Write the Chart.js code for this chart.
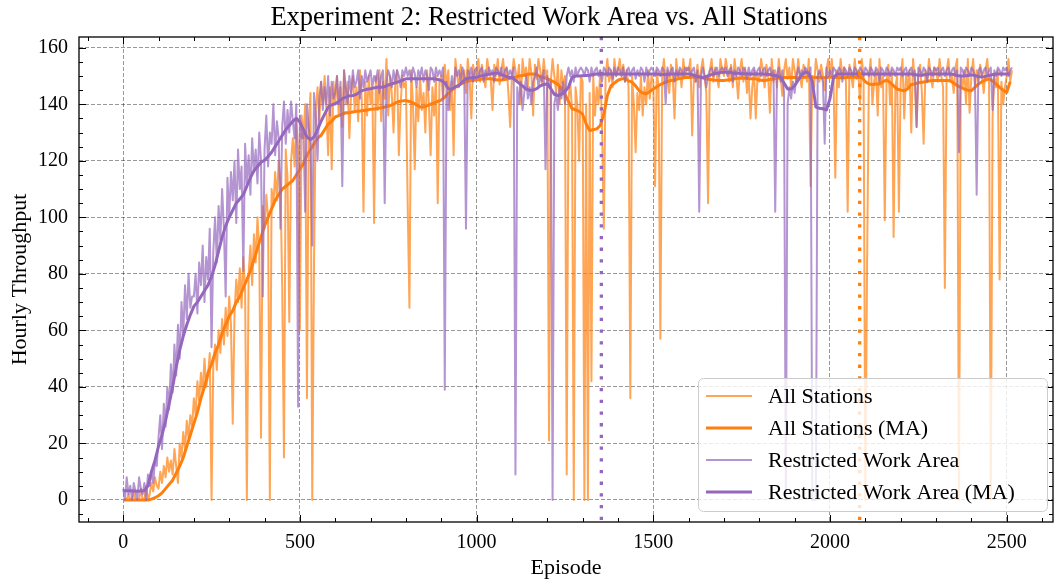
<!DOCTYPE html>
<html>
<head>
<meta charset="utf-8">
<script src="https://cdn.jsdelivr.net/npm/chart.js@4.4.1/dist/chart.umd.min.js"></script>
<style>
  html, body { margin: 0; padding: 0; background: #fff; }
</style>
</head>
<body>
<canvas id="chart" width="1054" height="584"></canvas>
<script>
// raw episodes are sampled every 5 episodes, moving averages every 10
const RAW_STEP = 5;
const MA_STEP = 10;

// All Stations, raw hourly throughput (one row = 100 episodes)
const allStationsRaw = [
  0,0,0,2,0,0,3,0,0,0,4,0,0,5,0,2,6,3,8,5,
  4,10,6,12,8,15,10,14,9,18,12,6,20,15,24,18,28,22,30,26,
  36,30,42,35,45,38,50,40,44,52,0,48,55,46,60,52,64,55,68,58,
  72,62,27,66,78,70,82,68,86,74,0,80,90,76,94,84,100,88,22,104,
  96,108,100,0,110,104,116,106,120,112,75,15,124,114,63,120,128,118,134,124,
  60,136,128,140,36,132,144,0,84,138,146,134,148,140,150,138,122,146,117,148,
  140,150,136,146,132,152,140,148,128,144,150,138,146,134,152,142,102,148,136,150,
  140,146,98,150,138,152,134,148,142,156,136,150,144,130,148,152,122,140,150,146,
  148,105,68,152,140,117,146,134,150,138,144,130,152,140,122,146,136,150,105,148,
  150,142,154,146,152,138,148,122,156,150,146,154,148,152,144,156,150,135,154,150,
  152,156,148,154,150,146,156,152,149,138,154,150,156,147,152,156,149,153,144,132,
  150,156,152,148,154,140,156,150,153,146,156,151,136,154,149,156,152,147,156,150,
  152,21,148,156,150,144,154,140,152,146,150,9,142,148,138,0,146,140,120,150,
  148,0,140,0,144,42,150,136,146,140,152,132,96,150,156,148,152,146,156,150,
  152,156,150,154,148,152,146,36,150,140,123,144,138,150,136,146,140,152,142,150,
  148,111,152,146,57,150,156,148,152,144,154,150,135,156,149,152,146,156,150,153,
  152,156,129,150,148,154,146,152,156,150,144,105,152,156,148,153,150,146,156,152,
  150,156,152,148,154,146,156,150,142,152,156,148,153,144,150,135,146,152,135,150,
  148,156,152,146,154,150,137,156,148,152,146,156,150,143,152,156,149,153,146,156,
  152,148,156,150,146,154,152,148,156,111,150,146,156,152,148,154,150,145,152,156,
  150,156,148,114,152,146,156,150,153,148,102,154,150,146,156,149,152,140,156,150,
  0,84,150,156,140,148,152,136,156,146,150,99,148,154,140,152,93,146,150,102,
  148,156,135,150,146,152,130,156,148,132,150,154,144,126,152,148,156,150,146,153,
  152,148,156,150,146,75,152,156,148,150,144,153,156,0,150,146,152,140,156,137,
  150,156,146,152,148,154,150,144,152,156,148,0,135,150,146,152,78,148,140,146,
  150,156,148,152
];

// Restricted Work Area, raw hourly throughput
const restrictedRaw = [
  4,0,8,2,5,0,6,3,0,8,4,2,6,0,9,5,10,6,14,12,
  22,30,18,34,26,40,32,48,38,55,44,62,50,70,58,76,64,80,68,72,
  72,80,66,84,76,90,70,86,78,96,54,88,100,84,104,92,110,96,72,114,
  100,116,106,120,98,124,110,118,81,126,112,122,108,128,116,124,112,130,120,72,
  124,136,118,130,126,140,122,134,128,96,132,141,126,138,130,141,134,128,140,33,
  136,128,130,102,140,132,126,90,144,136,120,142,148,138,146,140,150,136,148,142,
  144,150,140,148,111,152,146,140,150,144,152,146,148,152,142,150,146,152,148,150,
  152,146,150,148,152,144,150,152,105,148,152,150,146,152,148,152,150,146,152,150,
  153,150,152,148,153,151,146,152,150,153,148,152,150,145,153,152,148,153,150,152,
  150,153,39,148,138,144,150,146,153,150,152,148,153,150,96,152,150,153,148,152,
  153,150,152,153,148,152,150,153,151,152,148,153,152,150,153,149,152,153,150,152,
  150,153,9,146,140,148,138,144,150,142,146,140,148,150,153,146,150,148,152,117,
  150,146,148,0,140,144,138,146,142,148,140,150,153,150,152,148,153,150,152,153,
  152,150,153,152,148,153,150,152,153,150,152,148,153,152,150,153,152,149,153,150,
  153,152,150,153,148,152,153,150,152,153,149,152,150,153,152,148,153,150,152,153,
  152,150,153,152,150,153,152,140,153,150,152,153,148,152,150,153,152,150,153,152,
  153,150,152,153,148,152,102,150,153,150,146,150,152,153,150,152,153,150,152,153,
  152,153,150,152,153,148,152,150,153,152,150,153,152,149,153,150,152,153,150,152,
  153,150,152,153,150,152,153,150,152,102,150,153,148,152,144,0,140,146,142,148,
  144,150,153,150,152,150,153,152,150,153,0,0,0,150,152,150,148,126,153,150,
  152,150,153,152,150,153,152,148,153,152,150,153,152,150,153,152,150,153,152,150,
  153,152,150,153,152,150,153,152,148,153,152,150,153,152,150,153,152,150,153,152,
  153,150,152,153,150,152,153,150,152,132,153,152,150,153,152,148,153,152,150,153,
  152,153,150,152,153,150,152,153,150,152,153,150,152,123,153,152,150,153,152,150,
  153,152,150,108,152,153,150,152,153,150,152,153,138,152,150,153,152,150,153,152,
  153,150,152,153
];

// moving averages (one row = 100 episodes)
const allStationsMA = [
  0,0,0,0,0,0,0,0,0.3,0.8,
  1.5,2.5,4,5.5,7,9.5,12,15,19,23,
  27,31,36,40,45,48,52,55,59,62,
  65,67,70,72,75,78,81,85,89,93,
  97,100,103,106,108,110,111,112,113,115,
  117,119,122,124,126,128,129,131,133,134,
  135.5,136,136.5,137,137,137.3,137.5,137.6,137.8,138,
  138.2,138.3,138.5,138.8,139,139.3,139.8,140.4,141,141.2,
  141.3,141,140.5,139.8,139,139,139.5,140,140.5,141,
  141.5,142.5,144,145,146,146.8,147.5,148,148.3,148.5,
  148.6,148.8,149,149,149,148.8,148.6,148.6,148.8,149,
  149.3,149.6,150,150.2,150.5,150.7,150.7,150.5,149.8,149.5,
  149,148.5,147.8,147,145.8,143.5,141,138.5,138,137.5,
  136.5,133,130.7,131,131.3,132.5,136.5,143,146.5,147.5,
  148.5,149,149,148.3,147.8,146.5,144.8,144,143.7,144.5,
  145.4,146.2,147,147.6,148,148.4,148.6,149,149.2,149.5,
  149.5,149.6,149.7,149.6,149.3,149,148.8,148.6,148.5,148.4,
  148.4,148.6,148.8,149,149.2,149.3,149.2,149,149,149,
  148.6,148.4,148.5,148.8,149,149.2,149.3,149.5,149.5,149.6,
  149.5,149.4,149.5,149.6,149.7,149.6,149.5,149.5,149.4,149.5,
  149.6,149.6,149.5,149.4,149.4,149.5,149.6,149.6,149.5,149.5,
  148,147.2,147,147.2,147.2,148,148.5,147.8,146.5,145.4,
  145,144.8,145.5,147,147.2,147.6,147.8,148,148.2,148.4,
  148.4,148.4,148.4,148.4,148.3,147.5,146.6,146,145.4,145,
  144.8,146,147.2,148,148.6,149,148.2,147.2,146,145,
  144.2,148
];

const restrictedMA = [
  3.3,3.3,3.3,3.2,3.1,3.2,3.3,5,10,14,
  19,23,28,34,40,47,53,58,62,65.5,
  68.5,70,72,74,76,79,83,88,93,97,
  100,102.5,105,106.5,108,111,114,116.5,118,119.5,
  120.2,121.5,123,125,127,129,131,132.5,134,135,
  133.7,131,128.4,127.5,128.4,131,134,136.5,139,139.8,
  140.2,141,142,142.5,143,143.1,143.5,144.5,145,145.3,
  145.5,145.8,146,146,146.2,146.8,147.2,147.6,148,148.5,
  149,149,149,149,149,149,149,149,149,148.8,
  148.4,147.5,145.5,145.4,146.2,146.6,148,149,149.3,149.5,
  149.5,150,150.2,150.5,150.7,151,151,150.5,150,149.5,
  149.5,148.5,147.5,146.5,145.4,145,145,145.5,146.5,147,
  147.2,145.5,143.5,143.1,143.5,144.5,146,149.5,150,150,
  150.1,150.2,150.3,150.5,150.7,150.7,150.7,150.7,150.7,150.7,
  150.7,150.7,150.7,150.7,150.7,150.7,150.7,150.7,150.7,150.7,
  150.7,150.7,150.5,150.5,150.6,150.7,150.7,150.7,150.7,150.7,
  150.7,150.5,150,149.7,149.5,149.8,150.3,150.7,151,151.2,
  151.3,151.3,151.2,151,151,150.8,150.8,150.7,150.7,150.7,
  150.7,150.7,150.6,150.5,150.3,150.1,149.5,147.5,145.4,145.4,
  146.6,148.5,150.5,151.3,151,148,139,138.6,138.4,138,
  142,149.5,150.7,150.7,150.7,150.7,150.7,150.7,150.7,150.7,
  150.7,150.7,150.7,150.7,150.7,150.7,150.7,150.7,150.7,150.7,
  150.7,150.7,150.7,150.7,150.5,150.3,150.3,150.5,150.7,150.7,
  150.7,150.7,150.7,150.7,150.7,150.5,150.2,150,150,150.2,
  150.4,150.2,149.8,149.6,149.8,150.2,150.5,150.7,150.7,150.7,
  150.7,150.7
];

// best-episode markers (dotted vertical lines)
const markerEpisodes = [1353, 2084];
const markerColours = ['#9467bd', '#ff7f0e'];

// axis ticks
const xTickValues = [0, 500, 1000, 1500, 2000, 2500];
const yTickValues = [0, 20, 40, 60, 80, 100, 120, 140, 160];
const xMinorStep = 100, yMinorStep = 5;

const FONT = "'Liberation Serif', 'DejaVu Serif', serif";
const ORANGE = '#ff7f0e', PURPLE = '#9467bd';

function toPoints(values, step) {
  return values.map((v, i) => ({ x: i * step, y: v }));
}

// frame, inward ticks on four sides, dotted markers
const decorations = {
  id: 'decorations',
  afterDatasetsDraw(chart) {
    const { ctx, chartArea: a, scales: { x, y } } = chart;
    ctx.save();
    ctx.lineWidth = 3.3;
    ctx.setLineDash([3.3, 8.4]);
    markerEpisodes.forEach((ep, i) => {
      const px = x.getPixelForValue(ep);
      ctx.strokeStyle = markerColours[i];
      ctx.beginPath();
      ctx.moveTo(px, a.top);
      ctx.lineTo(px, a.bottom);
      ctx.stroke();
    });
    ctx.setLineDash([]);

    ctx.strokeStyle = '#000';
    ctx.lineWidth = 1;
    ctx.beginPath();
    for (let v = Math.ceil(x.min / xMinorStep) * xMinorStep; v <= x.max; v += xMinorStep) {
      const len = xTickValues.includes(v) ? 7 : 4;
      const px = Math.round(x.getPixelForValue(v)) + 0.5;
      ctx.moveTo(px, a.bottom); ctx.lineTo(px, a.bottom - len);
      ctx.moveTo(px, a.top); ctx.lineTo(px, a.top + len);
    }
    for (let v = Math.ceil(y.min / yMinorStep) * yMinorStep; v <= y.max; v += yMinorStep) {
      const len = yTickValues.includes(v) ? 7 : 4;
      const py = Math.round(y.getPixelForValue(v)) + 0.5;
      ctx.moveTo(a.left, py); ctx.lineTo(a.left + len, py);
      ctx.moveTo(a.right, py); ctx.lineTo(a.right - len, py);
    }
    ctx.stroke();

    ctx.lineWidth = 1.3;
    ctx.strokeRect(a.left, a.top, a.right - a.left, a.bottom - a.top);
    ctx.restore();
  },
  afterDraw(chart) {
    const { ctx, chartArea: a } = chart;
    ctx.save();
    // title
    ctx.fillStyle = '#000';
    ctx.font = '26.5px ' + FONT;
    ctx.textAlign = 'center';
    ctx.textBaseline = 'alphabetic';
    ctx.fillText('Experiment 2: Restricted Work Area vs. All Stations', 549, 25);

    // legend in the lower right corner
    const w = 349, h = 133;
    const bx = a.right - 6 - w, by = a.bottom - 11 - h;
    ctx.beginPath();
    ctx.roundRect(bx + 0.5, by + 0.5, w, h, 5);
    ctx.fillStyle = 'rgba(255,255,255,0.8)';
    ctx.fill();
    ctx.strokeStyle = '#cccccc';
    ctx.lineWidth = 1;
    ctx.stroke();

    ctx.font = '22px ' + FONT;
    ctx.textAlign = 'left';
    ctx.textBaseline = 'middle';
    chart.data.datasets.forEach((ds, i) => {
      const cy = by + 18 + i * 32;
      ctx.strokeStyle = ds.borderColor;
      ctx.lineWidth = ds.borderWidth;
      ctx.beginPath();
      ctx.moveTo(bx + 8, cy);
      ctx.lineTo(bx + 54, cy);
      ctx.stroke();
      ctx.fillStyle = '#000';
      ctx.fillText(ds.label, bx + 70, cy + 1);
    });
    ctx.restore();
  }
};

new Chart(document.getElementById('chart'), {
  type: 'line',
  data: {
    datasets: [
      { label: 'All Stations', data: toPoints(allStationsRaw, RAW_STEP),
        borderColor: 'rgba(255,127,14,0.7)', borderWidth: 2, order: 4 },
      { label: 'All Stations (MA)', data: toPoints(allStationsMA, MA_STEP),
        borderColor: ORANGE, borderWidth: 3, order: 3 },
      { label: 'Restricted Work Area', data: toPoints(restrictedRaw, RAW_STEP),
        borderColor: 'rgba(148,103,189,0.7)', borderWidth: 2, order: 2 },
      { label: 'Restricted Work Area (MA)', data: toPoints(restrictedMA, MA_STEP),
        borderColor: PURPLE, borderWidth: 3, order: 1 }
    ]
  },
  options: {
    responsive: false,
    animation: false,
    events: [],
    elements: { point: { radius: 0 }, line: { tension: 0, borderJoinStyle: 'round' } },
    layout: { padding: { top: 37, right: 1, bottom: 0, left: 0 } },
    plugins: {
      legend: { display: false },
      title: { display: false },
      tooltip: { enabled: false }
    },
    scales: {
      x: {
        type: 'linear',
        min: -125,
        max: 2631,
        afterBuildTicks(s) { s.ticks = xTickValues.map(v => ({ value: v })); },
        ticks: { padding: 9, maxRotation: 0, autoSkip: false, callback: v => String(v),
                 color: '#000', font: { family: FONT, size: 20 } },
        grid: { color: 'rgba(0,0,0,0.45)', lineWidth: 0.9, drawTicks: false },
        border: { display: false, dash: [4, 2] },
        title: { display: true, text: 'Episode', color: '#000',
                 font: { family: FONT, size: 22 }, padding: { top: 0, bottom: 3 } },
        afterFit(s) { s.height = 62; }
      },
      y: {
        type: 'linear',
        min: -7.8,
        max: 163.8,
        afterBuildTicks(s) { s.ticks = yTickValues.map(v => ({ value: v })); },
        ticks: { padding: 11, autoSkip: false, callback: v => String(v),
                 color: '#000', font: { family: FONT, size: 20 } },
        grid: { color: 'rgba(0,0,0,0.45)', lineWidth: 0.9, drawTicks: false },
        border: { display: false, dash: [4, 2] },
        title: { display: true, text: 'Hourly Throughput', color: '#000',
                 font: { family: FONT, size: 22 }, padding: { top: 7, bottom: 0 } },
        afterFit(s) { s.width = 79; }
      }
    }
  },
  plugins: [decorations]
});
</script>
</body>
</html>
